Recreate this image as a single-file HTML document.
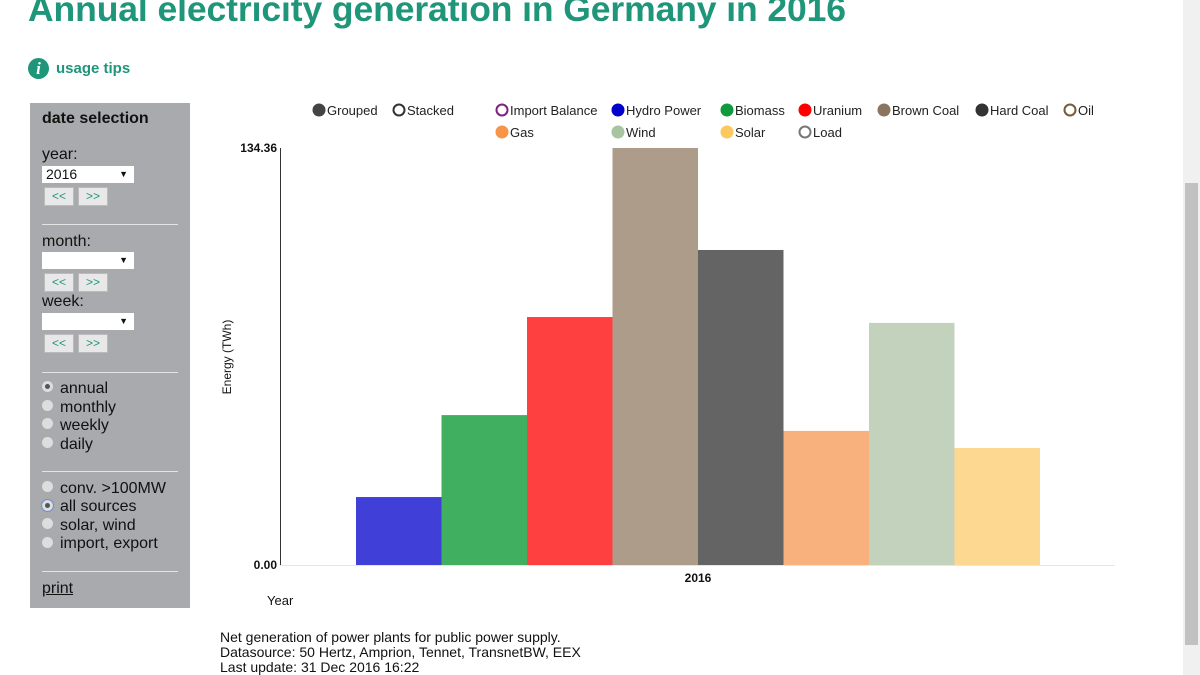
<!DOCTYPE html>
<html><head><meta charset="utf-8"><style>
body{margin:0;width:1200px;height:675px;overflow:hidden;background:#fff;font-family:"Liberation Sans",Arial,sans-serif;position:relative}
.abs{position:absolute}
#title{left:28px;top:-11px;font-size:35.5px;font-weight:bold;color:#1f9579;white-space:nowrap;letter-spacing:-0.1px}
#tips{left:28px;top:58px;color:#1f9579;font-weight:bold;font-size:15px;display:flex;align-items:center}
#tips .i{width:21px;height:21px;border-radius:50%;background:#1f9579;color:#fff;font-style:italic;font-family:"Liberation Serif",serif;font-size:17px;text-align:center;line-height:21px;margin-right:7px}
#side{left:30px;top:103px;width:160px;height:505px;background:#a9aaad;font-size:16px;color:#111}
#side .t{position:absolute}
.sel{position:absolute;left:12px;width:92px;height:17px;background:#fff;font-size:14px;line-height:17px;padding-left:4px;box-sizing:border-box}
.sel:after{content:"▼";position:absolute;right:6px;top:0;font-size:9px}
.btn{position:absolute;width:30px;height:19px;background:#e8e8e8;border:1px solid #bbb;box-sizing:border-box;color:#1f9579;font-size:12px;text-align:center;line-height:17px}
.hr{position:absolute;left:12px;width:136px;height:1px;background:#e4e4e4}
.rad{position:absolute;left:12px;width:11px;height:11px;border-radius:50%;background:#ddd}
.rad.on:after{content:"";position:absolute;left:3px;top:3px;width:5px;height:5px;border-radius:50%;background:#555}
#scroll{left:1183px;top:0;width:17px;height:675px;background:#f0f0f0}
#thumb{left:1185px;top:183px;width:13px;height:462px;background:#c1c1c1}
#foot{left:220px;top:630px;font-size:14px;line-height:15px;color:#111}
</style></head><body>
<div id="title" class="abs">Annual electricity generation in Germany in 2016</div>
<div id="tips" class="abs"><span class="i">i</span>usage tips</div>
<div id="side" class="abs">
<div class="t" style="left:12px;top:7px;font-weight:bold">date selection</div>
<div class="t" style="left:12px;top:43px">year:</div>
<div class="sel" style="top:63px">2016</div>
<div class="btn" style="left:14px;top:84px">&lt;&lt;</div>
<div class="btn" style="left:48px;top:84px">&gt;&gt;</div>
<div class="hr" style="top:121px"></div>
<div class="t" style="left:12px;top:130px">month:</div>
<div class="sel" style="top:149px"></div>
<div class="btn" style="left:14px;top:170px">&lt;&lt;</div>
<div class="btn" style="left:48px;top:170px">&gt;&gt;</div>
<div class="t" style="left:12px;top:190px">week:</div>
<div class="sel" style="top:210px"></div>
<div class="btn" style="left:14px;top:231px">&lt;&lt;</div>
<div class="btn" style="left:48px;top:231px">&gt;&gt;</div>
<div class="hr" style="top:269px"></div>
<div class="rad on" style="top:278px"></div><div class="t" style="left:30px;top:277px">annual</div>
<div class="rad" style="top:297px"></div><div class="t" style="left:30px;top:296px">monthly</div>
<div class="rad" style="top:315px"></div><div class="t" style="left:30px;top:314px">weekly</div>
<div class="rad" style="top:334px"></div><div class="t" style="left:30px;top:333px">daily</div>
<div class="hr" style="top:368px"></div>
<div class="rad" style="top:378px"></div><div class="t" style="left:30px;top:377px">conv. &gt;100MW</div>
<div class="rad on" style="top:397px;outline:1px solid #6a8fd0"></div><div class="t" style="left:30px;top:395px">all sources</div>
<div class="rad" style="top:415px"></div><div class="t" style="left:30px;top:414px">solar, wind</div>
<div class="rad" style="top:434px"></div><div class="t" style="left:30px;top:432px">import, export</div>
<div class="hr" style="top:468px"></div>
<div class="t" style="left:12px;top:477px;text-decoration:underline">print</div>
</div>
<svg class="abs" style="left:0;top:0" width="1180" height="675" id="chart" font-family="Liberation Sans, Arial, sans-serif"></svg>
<div id="foot" class="abs">Net generation of power plants for public power supply.<br>Datasource: 50 Hertz, Amprion, Tennet, TransnetBW, EEX<br>Last update: 31 Dec 2016 16:22</div>
<div id="scroll" class="abs"></div>
<div id="thumb" class="abs"></div>
<script>
const categories=["Hydro Power","Biomass","Uranium","Brown Coal","Hard Coal","Gas","Wind","Solar"];
const values=[21.9,48.3,79.9,134.36,101.5,43.2,78.0,37.7];
const colors=["#4040d8","#40b060","#ff4040","#ae9c8b","#646464","#f8b07c","#c3d2bc","#fcd890"];
const yTicks=["0.00","134.36"];
const yMax=134.36;
const NS="http://www.w3.org/2000/svg";
const svg=document.getElementById('chart');
function mk(t,a,p){const e=document.createElementNS(NS,t);for(const k in a)e.setAttribute(k,a[k]);(p||svg).appendChild(e);return e;}
const y0=565,y1=148;
function yS(v){return y0-(v/yMax)*(y0-y1);}
const bw=85.5,gx=698-bw*categories.length/2;
function xS(i){return gx+i*bw;}
const ya=mk('line',{x1:280.5,y1:148,x2:280.5,y2:565,stroke:'#333'});


const xa=mk('line',{x1:280,y1:565.5,x2:1115,y2:565.5,stroke:'#e6e6e6'});


yTicks.forEach((t)=>{const tx=mk('text',{x:277,y:yS(parseFloat(t))+4,'text-anchor':'end','font-size':12,'font-weight':'bold',fill:'#111'});tx.textContent=t;

});
values.forEach((v,i)=>{const r=mk('rect',{x:xS(i),y:yS(v),width:bw,height:y0-yS(v),fill:colors[i]});

});
let t=mk('text',{x:698,y:582,'text-anchor':'middle','font-size':12,'font-weight':'bold',fill:'#111'});t.textContent='2016';


t=mk('text',{x:267,y:605,'font-size':13,fill:'#111'});t.textContent='Year';


t=mk('text',{x:0,y:0,'font-size':12,fill:'#111','text-anchor':'middle',transform:'translate(231,357) rotate(-90)'});t.textContent='Energy (TWh)';


const legend=[["Grouped",319,110,"#444",true],["Stacked",399,110,"#333",false],["Import Balance",502,110,"#80207f",false],["Hydro Power",618,110,"#0000cc",true],["Biomass",727,110,"#109a40",true],["Uranium",805,110,"#f00",true],["Brown Coal",884,110,"#8b7560",true],["Hard Coal",982,110,"#333",true],["Oil",1070,110,"#7a5a3a",false],["Gas",502,132,"#f89448",true],["Wind",618,132,"#a8c4a0",true],["Solar",727,132,"#fcc860",true],["Load",805,132,"#777",false]];
legend.forEach(l=>{const g=mk('g',{});


mk('circle',{cx:l[1],cy:l[2],r:l[4]?6.5:5.5,fill:l[4]?l[3]:'#fff',stroke:l[3],'stroke-width':l[4]?0:2},g);
const tx=mk('text',{x:l[1]+8,y:l[2]+5,'font-size':13,fill:'#222'},g);tx.textContent=l[0];});
</script>
</body></html>
